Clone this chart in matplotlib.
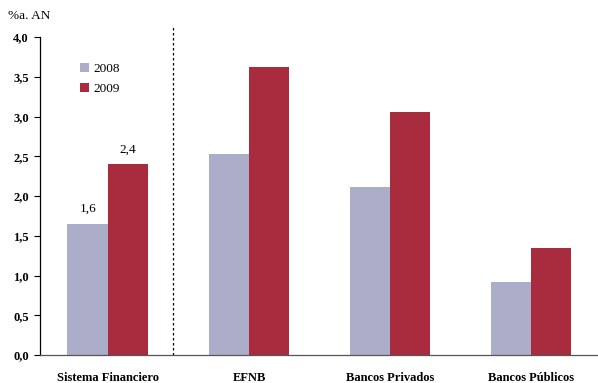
import numpy as np
import matplotlib
matplotlib.use("Agg")
import matplotlib.pyplot as plt

plt.rcParams['font.family'] = ['Liberation Serif', 'DejaVu Serif']

categorias = ['Sistema Financiero', 'EFNB', 'Bancos Privados', 'Bancos Públicos']
v2008 = [1.65, 2.53, 2.11, 0.92]
v2009 = [2.40, 3.62, 3.06, 1.35]
etiquetas = {0: ('1,6', '2,4')}

c2008 = '#abadc9'
c2009 = '#a82b3e'

fig = plt.figure(figsize=(5.98, 3.83), dpi=100)
ax = fig.add_axes([40 / 598, 28 / 383, 558 / 598, 318 / 383])

x = np.arange(len(categorias))
w = 0.287
ax.bar(x - w / 2, v2008, w, color=c2008, label='2008')
ax.bar(x + w / 2, v2009, w, color=c2009, label='2009')

for i, (a, b) in etiquetas.items():
    ax.text(x[i] - w / 2, v2008[i] + 0.11, a, ha='center', va='bottom', fontsize=9.5)
    ax.text(x[i] + w / 2, v2009[i] + 0.11, b, ha='center', va='bottom', fontsize=9.5)

# separador punteado entre el sistema y los subgrupos
ax.plot([0.46, 0.46], [0, 4.15], color='black', lw=0.9, ls=(0, (2, 2)), clip_on=False)

ax.set_xlim(-0.482, 3.475)
ax.set_ylim(0, 4.0)
ax.set_yticks(np.arange(0, 4.01, 0.5))
ax.set_yticklabels([f'{t:.1f}'.replace('.', ',') for t in np.arange(0, 4.01, 0.5)],
                   fontweight='bold', fontsize=9)
ax.set_xticks(x)
ax.set_xticklabels(categorias, fontweight='bold', fontsize=9)
ax.tick_params(axis='x', length=0, pad=12)
ax.tick_params(axis='y', length=4, width=0.8, direction='out', pad=4)

for s in ['top', 'right']:
    ax.spines[s].set_visible(False)
ax.spines['left'].set_linewidth(0.9)
ax.spines['bottom'].set_linewidth(0.9)
ax.spines['bottom'].set_color('#555555')

fig.text(8 / 598, 1 - 16 / 383, '%a. AN', fontsize=9.5, va='center', ha='left')

ax.legend(loc='upper left', bbox_to_anchor=(0.05, 0.955), frameon=False, fontsize=9.5,
          handlelength=0.7, handleheight=0.7, handletextpad=0.3, labelspacing=0.55)

fig.savefig('out.png', dpi=100)
